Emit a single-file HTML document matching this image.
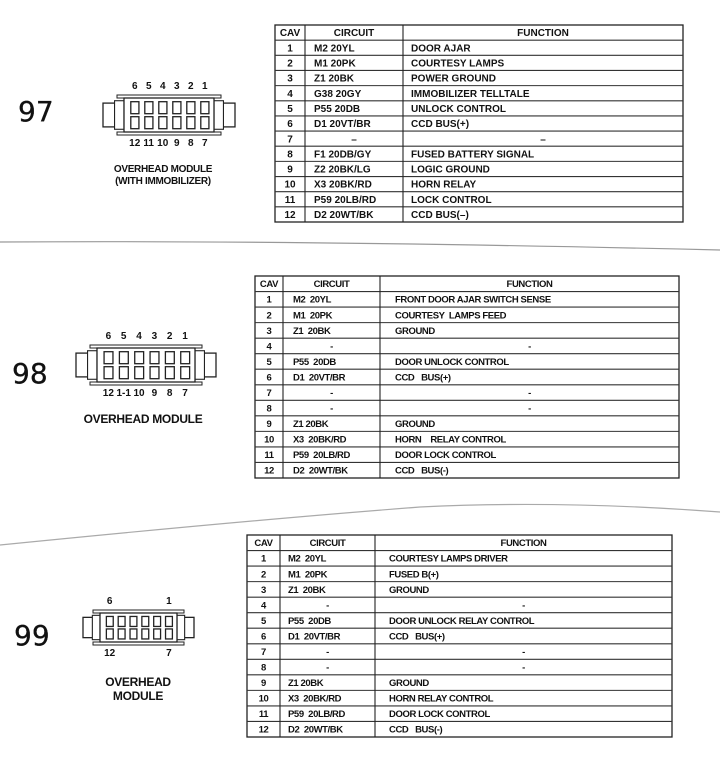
<!DOCTYPE html>
<html><head><meta charset="utf-8"><style>
body{margin:0;background:#fff;width:720px;height:775px;overflow:hidden}
svg{display:block}
text{font-family:"Liberation Sans",sans-serif;fill:#111}
.hw{font-family:'DejaVu Sans',sans-serif;font-size:28px;font-weight:normal;stroke:#111;stroke-width:0.3}
</style></head><body>
<svg id="s" width="720" height="775" viewBox="0 0 720 775" xmlns="http://www.w3.org/2000/svg">
<path d="M0 242 Q300 240 720 250" stroke="#999" stroke-width="1.2" fill="none"/>
<path d="M0 545 Q250 520 420 507 Q560 500 720 512" stroke="#aaa" stroke-width="1.2" fill="none"/>
<text class="hw" x="18" y="121">97</text>
<text class="hw" x="12" y="383">98</text>
<text class="hw" x="14" y="645">99</text>
</svg>
<script>
var s=document.getElementById('s'),NS='http://www.w3.org/2000/svg';
function el(t,a,txt){var e=document.createElementNS(NS,t);for(var k in a)e.setAttribute(k,a[k]);if(txt!=null)e.textContent=txt;s.appendChild(e);return e;}
function table(x0,c1,c2,x1,y0,y1,rows,fs,cond,pad,fpad){
 var n=rows.length+1,h=(y1-y0)/n;
 el('rect',{x:x0,y:y0,width:x1-x0,height:y1-y0,fill:'none',stroke:'#222','stroke-width':1.3});
 for(var i=1;i<n;i++)el('line',{x1:x0,x2:x1,y1:y0+i*h,y2:y0+i*h,stroke:'#333','stroke-width':1.1});
 [c1,c2].forEach(function(c){el('line',{x1:c,x2:c,y1:y0,y2:y1,stroke:'#222','stroke-width':1.1});});
 var st='font-size:'+fs+'px;font-weight:bold;letter-spacing:'+cond+'px;white-space:pre';
 var hd=['CAV','CIRCUIT','FUNCTION'],cx=[(x0+c1)/2,(c1+c2)/2,(c2+x1)/2];
 hd.forEach(function(t,j){el('text',{x:cx[j],y:y0+h/2+fs*0.36,'text-anchor':'middle',style:st},t);});
 rows.forEach(function(r,i){var yy=y0+(i+1)*h+h/2+fs*0.36;
  el('text',{x:cx[0],y:yy,'text-anchor':'middle',style:st},String(i+1));
  if(r[0]=='-'){el('text',{x:cx[1],y:yy,'text-anchor':'middle',style:st},r[2]||'-');el('text',{x:cx[2],y:yy,'text-anchor':'middle',style:st},r[2]||'-');}
  else{el('text',{x:c1+pad,y:yy,style:st},r[0]);el('text',{x:c2+fpad,y:yy,style:st},r[1]);}
 });
}
table(275,305,403,683,25,222,[['M2 20YL','DOOR AJAR'],['M1 20PK','COURTESY LAMPS'],['Z1 20BK','POWER GROUND'],['G38 20GY','IMMOBILIZER TELLTALE'],['P55 20DB','UNLOCK CONTROL'],['D1 20VT/BR','CCD BUS(+)'],['-','','–'],['F1 20DB/GY','FUSED BATTERY SIGNAL'],['Z2 20BK/LG','LOGIC GROUND'],['X3 20BK/RD','HORN RELAY'],['P59 20LB/RD','LOCK CONTROL'],['D2 20WT/BK','CCD BUS(–)']],10,0,9,8);
table(255,283,380,679,276,478,[['M2  20YL','FRONT DOOR AJAR SWITCH SENSE'],['M1  20PK','COURTESY  LAMPS FEED'],['Z1  20BK','GROUND'],['-','','-'],['P55  20DB','DOOR UNLOCK CONTROL'],['D1  20VT/BR','CCD   BUS(+)'],['-','','-'],['-','','-'],['Z1 20BK','GROUND'],['X3  20BK/RD','HORN    RELAY CONTROL'],['P59  20LB/RD','DOOR LOCK CONTROL'],['D2  20WT/BK','CCD   BUS(-)']],9.5,-0.4,10,15);
table(247,280,375,672,535,737,[['M2  20YL','COURTESY LAMPS DRIVER'],['M1  20PK','FUSED B(+)'],['Z1  20BK','GROUND'],['-','','-'],['P55  20DB','DOOR UNLOCK RELAY CONTROL'],['D1  20VT/BR','CCD   BUS(+)'],['-','','-'],['-','','-'],['Z1 20BK','GROUND'],['X3  20BK/RD','HORN RELAY CONTROL'],['P59  20LB/RD','DOOR LOCK CONTROL'],['D2  20WT/BK','CCD   BUS(-)']],9.5,-0.4,8,14);
function conn(bx0,bx1,by0,by1,tab,top,bot,fs){
 var w=bx1-bx0,hh=by1-by0;
 el('rect',{x:bx0-tab,y:by0+hh*0.15,width:tab,height:hh*0.7,fill:'#fff',stroke:'#222','stroke-width':1.3});
 el('rect',{x:bx0-tab*0.45,y:by0+hh*0.08,width:tab*0.45,height:hh*0.84,fill:'#fff',stroke:'#222','stroke-width':1.1});
 el('rect',{x:bx1,y:by0+hh*0.15,width:tab,height:hh*0.7,fill:'#fff',stroke:'#222','stroke-width':1.3});
 el('rect',{x:bx1,y:by0+hh*0.08,width:tab*0.45,height:hh*0.84,fill:'#fff',stroke:'#222','stroke-width':1.1});
 el('rect',{x:bx0-7,y:by0-3,width:w+14,height:3,fill:'#fff',stroke:'#222','stroke-width':1});
 el('rect',{x:bx0-7,y:by1,width:w+14,height:3,fill:'#fff',stroke:'#222','stroke-width':1});
 el('rect',{x:bx0,y:by0,width:w,height:hh,fill:'#fff',stroke:'#222','stroke-width':1.3});
 var cw=(w-6)/6;
 for(var i=0;i<6;i++)for(var r=0;r<2;r++){
  el('rect',{x:bx0+4+i*cw+cw*0.2,y:by0+2+r*(hh-4)/2+hh*0.05,width:cw*0.58,height:(hh-4)/2*0.8,fill:'none',stroke:'#222','stroke-width':1.3});
 }
 for(var i=0;i<6;i++){var x=bx0+4+i*cw+cw*0.48;
  if(top[i])el('text',{x:x,y:by0-9,'text-anchor':'middle',style:'font-size:'+fs+'px;font-weight:bold'},top[i]);
  if(bot[i])el('text',{x:x,y:by1+14,'text-anchor':'middle',style:'font-size:'+fs+'px;font-weight:bold'},bot[i]);
 }
}
conn(124,214,98,132,21,['6','5','4','3','2','1'],['12','11','10','9','8','7'],10);
conn(97,195,348,382,21,['6','5','4','3','2','1'],['12','1-1','10','9','8','7'],10);
conn(100,177,613,642,17,['6','','','','','1'],['12','','','','','7'],10);
function t(x,y,str,fs){el('text',{x:x,y:y,'text-anchor':'middle',style:'font-size:'+fs+'px;font-weight:bold;letter-spacing:-0.3px'},str);}
t(163,172,'OVERHEAD MODULE',10);t(163,184,'(WITH IMMOBILIZER)',10);
t(143,423,'OVERHEAD MODULE',12);
t(138,686,'OVERHEAD',12);t(138,700,'MODULE',12);
</script>
</body></html>
